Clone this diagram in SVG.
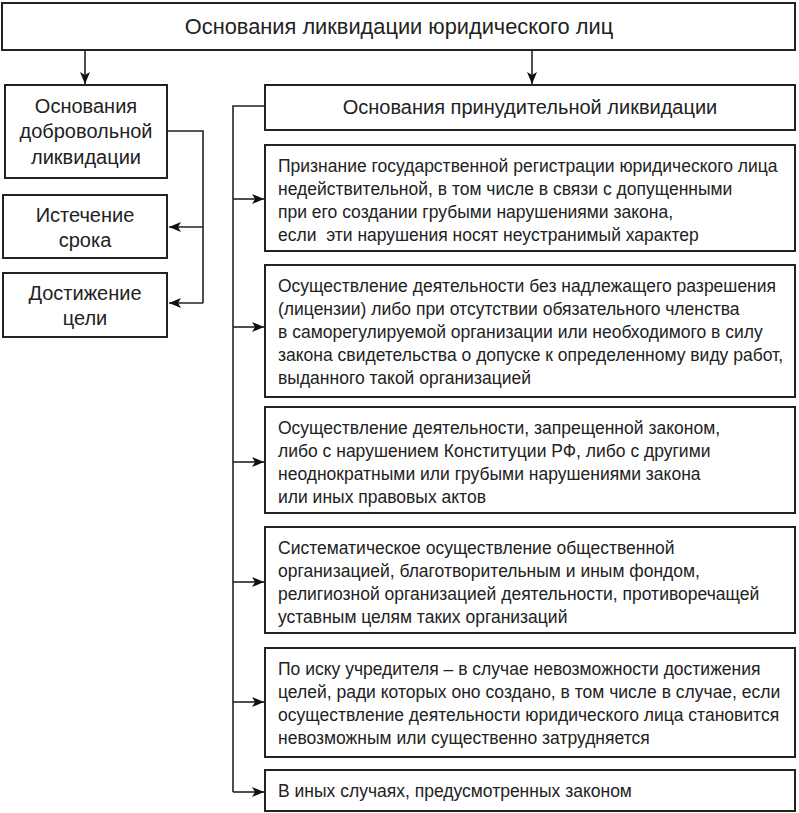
<svg xmlns="http://www.w3.org/2000/svg" width="799" height="813" viewBox="0 0 799 813">
<defs>
<marker id="ah" viewBox="0 0 12 10" refX="12" refY="5" markerWidth="12" markerHeight="10" markerUnits="userSpaceOnUse" orient="auto">
<path d="M0,0 L12,5 L0,10 L3,5 Z" fill="#111"/>
</marker>
</defs>
<style>
rect.b{fill:#fff;stroke:#222;stroke-width:2}
text{font-family:"Liberation Sans","Noto Sans",sans-serif;fill:#222}
.t{font-size:21.8px;text-anchor:middle}
.l{font-size:20px;text-anchor:middle}
.r{font-size:17.5px}
.c{fill:none;stroke:#222;stroke-width:1.6}
</style>
<rect width="799" height="813" fill="#fff"/>
<g id="connectors">
<line class="c" x1="85" y1="50" x2="85" y2="84" marker-end="url(#ah)"/>
<line class="c" x1="532" y1="50" x2="532" y2="84" marker-end="url(#ah)"/>
<polyline class="c" points="167,131 203,131 203,303"/>
<line class="c" x1="203" y1="227" x2="169" y2="227" marker-end="url(#ah)"/>
<line class="c" x1="203" y1="303" x2="169" y2="303" marker-end="url(#ah)"/>
<polyline class="c" points="265,106 233,106 233,792"/>
<line class="c" x1="233" y1="199" x2="264" y2="199" marker-end="url(#ah)"/>
<line class="c" x1="233" y1="327" x2="264" y2="327" marker-end="url(#ah)"/>
<line class="c" x1="233" y1="462" x2="264" y2="462" marker-end="url(#ah)"/>
<line class="c" x1="233" y1="582" x2="264" y2="582" marker-end="url(#ah)"/>
<line class="c" x1="233" y1="702" x2="264" y2="702" marker-end="url(#ah)"/>
<line class="c" x1="233" y1="792" x2="264" y2="792" marker-end="url(#ah)"/>
</g>
<g id="root">
<rect class="b" x="2" y="3" width="793" height="47"/>
<text class="t" x="399" y="34">Основания ликвидации юридического лиц</text>
</g>
<g id="voluntary">
<rect class="b" x="5" y="85" width="162" height="93"/>
<text class="l" x="86" y="113">Основания</text>
<text class="l" x="86" y="138">добровольной</text>
<text class="l" x="86" y="164">ликвидации</text>
</g>
<g id="expiry">
<rect class="b" x="3" y="195" width="164" height="63"/>
<text class="l" x="85" y="222">Истечение</text>
<text class="l" x="85" y="247">срока</text>
</g>
<g id="goal">
<rect class="b" x="3" y="273" width="164" height="64"/>
<text class="l" x="85" y="300">Достижение</text>
<text class="l" x="85" y="325">цели</text>
</g>
<g id="forced">
<rect class="b" x="265" y="85" width="530" height="45"/>
<text class="l" x="530" y="114">Основания принудительной ликвидации</text>
</g>
<g id="f1">
<rect class="b" x="265" y="145" width="530" height="106"/>
<text class="r" x="278" y="172">Признание государственной регистрации юридического лица</text>
<text class="r" x="278" y="195">недействительной, в том числе в связи с допущенными</text>
<text class="r" x="278" y="218">при его создании грубыми нарушениями закона,</text>
<text class="r" x="278" y="241" xml:space="preserve">если  эти нарушения носят неустранимый характер</text>
</g>
<g id="f2">
<rect class="b" x="265" y="265" width="530" height="132"/>
<text class="r" x="278" y="292">Осуществление деятельности без надлежащего разрешения</text>
<text class="r" x="278" y="315">(лицензии) либо при отсутствии обязательного членства</text>
<text class="r" x="278" y="338">в саморегулируемой организации или необходимого в силу</text>
<text class="r" x="278" y="361">закона свидетельства о допуске к определенному виду работ,</text>
<text class="r" x="278" y="384">выданного такой организацией</text>
</g>
<g id="f3">
<rect class="b" x="265" y="407" width="530" height="106"/>
<text class="r" x="278" y="434">Осуществление деятельности, запрещенной законом,</text>
<text class="r" x="278" y="457">либо с нарушением Конституции РФ, либо с другими</text>
<text class="r" x="278" y="480">неоднократными или грубыми нарушениями закона</text>
<text class="r" x="278" y="503">или иных правовых актов</text>
</g>
<g id="f4">
<rect class="b" x="265" y="527" width="530" height="106"/>
<text class="r" x="278" y="554">Систематическое осуществление общественной</text>
<text class="r" x="278" y="577">организацией, благотворительным и иным фондом,</text>
<text class="r" x="278" y="600">религиозной организацией деятельности, противоречащей</text>
<text class="r" x="278" y="623">уставным целям таких организаций</text>
</g>
<g id="f5">
<rect class="b" x="265" y="648" width="530" height="109"/>
<text class="r" x="278" y="675">По иску учредителя – в случае невозможности достижения</text>
<text class="r" x="278" y="698">целей, ради которых оно создано, в том числе в случае, если</text>
<text class="r" x="278" y="721">осуществление деятельности юридического лица становится</text>
<text class="r" x="278" y="744">невозможным или существенно затрудняется</text>
</g>
<g id="f6">
<rect class="b" x="265" y="770" width="530" height="41"/>
<text class="r" x="278" y="797">В иных случаях, предусмотренных законом</text>
</g>
</svg>
